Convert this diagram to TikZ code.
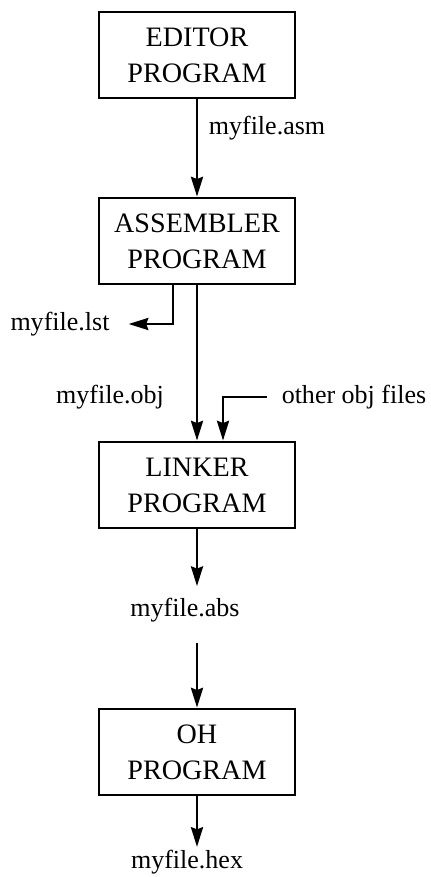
\documentclass[tikz,border=0pt]{standalone}
\usepackage{fontspec}
\setmainfont{Liberation Serif}
\usetikzlibrary{arrows.meta,positioning}

\begin{document}
\begin{tikzpicture}[
  x=0.025cm, y=-0.025cm,
  prog/.style={rectangle, draw, line width=2pt, minimum width=4.9cm, minimum height=2.15cm, align=center, font=\fontsize{20}{25.6}\selectfont},
  fname/.style={inner sep=2pt, font=\fontsize{18.5}{22}\selectfont},
  arrow/.style={-{Stealth[length=14pt,width=8.5pt,inset=1.5pt]}, line width=2pt}
]
\useasboundingbox (0,0) rectangle (430,877);
\node[prog] (editor) at (197,55) {EDITOR\\PROGRAM};
\node[prog] (assembler) at (197,241) {ASSEMBLER\\PROGRAM};
\node[prog] (linker) at (197,485) {LINKER\\PROGRAM};
\node[prog] (oh) at (197,752) {OH\\PROGRAM};

\node[fname] (asm) at (267,128) {myfile.asm};
\node[fname] (lst) at (60,324) {myfile.lst};
\node[fname] (obj) at (110,397) {myfile.obj};
\node[fname] (other) at (354,397) {other obj files};
\node[fname] (abs) at (185,610) {myfile.abs};
\node[fname] (hex) at (187,862) {myfile.hex};

\draw[arrow] (editor) -- (assembler);
\draw[arrow] ([xshift=-0.6cm]assembler.south) |- ([xshift=0.4cm]lst.east);
\draw[arrow] (assembler) -- (linker);
\draw[arrow] ([xshift=-0.3cm]other.west) -| ([xshift=0.65cm]linker.north);
\draw[arrow, shorten >=0.22cm] (linker.south) -- (linker.south |- abs.north);
\draw[arrow, shorten <=0.45cm] (oh.north |- abs.south) -- (oh.north);
\draw[arrow] (oh.south) -- (oh.south |- hex.north);
\end{tikzpicture}
\end{document}
